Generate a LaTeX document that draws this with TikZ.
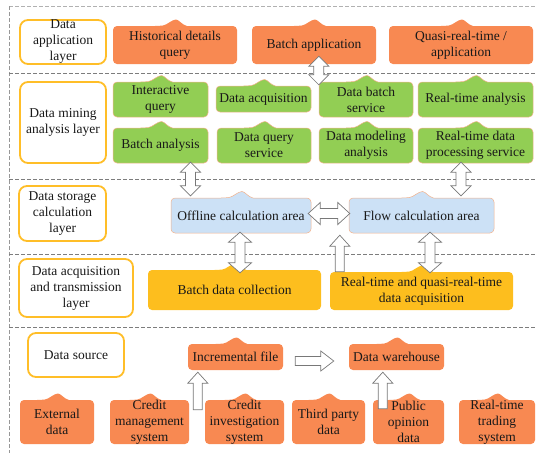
\documentclass[tikz,border=0pt]{standalone}
\usepackage{fontspec}
\setmainfont{Liberation Serif}
\usetikzlibrary{calc}

\definecolor{apporange}{RGB}{248,137,82}
\definecolor{minegreen}{RGB}{146,206,84}
\definecolor{calcblue}{RGB}{204,225,246}
\definecolor{acqyellow}{RGB}{253,190,30}
\definecolor{labelgold}{RGB}{255,190,40}
\definecolor{edgepeach}{RGB}{243,178,140}
\definecolor{sepgray}{RGB}{125,125,125}
\definecolor{arrowgray}{RGB}{120,120,120}

\tikzset{
  x=1pt, y=-1pt,
  boxtext/.style={inner sep=0pt, align=center, text=black!90,
    font=\fontsize{13.5}{16}\selectfont},
  layerbox/.style={draw=labelgold, line width=1.8pt, rounded corners=8pt, fill=white},
  orangefill/.style={fill=apporange},
  greenfill/.style={fill=minegreen, draw=edgepeach, line width=0.5pt},
  bluefill/.style={fill=calcblue, draw=edgepeach, line width=0.5pt},
  yellowfill/.style={fill=acqyellow},
  blockarrow/.style={draw=arrowgray, fill=white, line width=0.7pt, line join=miter},
  separator/.style={draw=sepgray, line width=1pt, dash pattern=on 4pt off 2pt},
}

% box with a small rounded mound in the middle of its top edge
% #1 name, #2 style, #3 x1, #4 y1, #5 x2, #6 y2, #7 text
\newcommand\bumpbox[7]{%
  \pgfmathsetmacro\bbcx{(#3+#5)/2}%
  \pgfmathsetmacro\bbcy{(#4+#6)/2}%
  \pgfmathsetmacro\bbw{#5-#3}%
  \pgfmathsetmacro\bbh{#6-#4}%
  \path[#2, rounded corners=4pt] (\bbcx+12,#4) -- (#5,#4) -- (#5,#6) -- (#3,#6)
    -- (#3,#4) -- (\bbcx-16,#4) [sharp corners]
    .. controls (\bbcx-8,#4-1) and (\bbcx-3,#4-6.5) .. (\bbcx+1,#4-6.5)
    .. controls (\bbcx+4,#4-6.5) and (\bbcx+7,#4-1) .. (\bbcx+12,#4) -- cycle;
  \node[boxtext, minimum width=\bbw pt, minimum height=\bbh pt] (#1) at (\bbcx,\bbcy) {#7};
}

% layer caption box: #1 name, #2 x1, #3 y1, #4 x2, #5 y2, #6 text
\newcommand\layerlabel[6]{%
  \pgfmathsetmacro\bbcx{(#2+#4)/2}%
  \pgfmathsetmacro\bbcy{(#3+#5)/2}%
  \pgfmathsetmacro\bbw{#4-#2}%
  \pgfmathsetmacro\bbh{#5-#3}%
  \node[layerbox, boxtext, minimum width=\bbw pt, minimum height=\bbh pt] (#1) at (\bbcx,\bbcy) {#6};
}

% vertical double block arrow: x and upper tip from #2, lower tip from #3; #1 head half width
\newcommand\dblv[3][10pt]{%
  \draw[blockarrow] let \p1=#2, \p2=#3 in
    (\x1,\y1) -- (\x1+#1,\y1-10pt) -- (\x1+5pt,\y1-10pt) -- (\x1+5pt,\y2+10pt)
    -- (\x1+#1,\y2+10pt) -- (\x1,\y2) -- (\x1-#1,\y2+10pt) -- (\x1-5pt,\y2+10pt)
    -- (\x1-5pt,\y1-10pt) -- (\x1-#1,\y1-10pt) -- cycle;
}

% horizontal double block arrow: y and left tip from #1, right tip from #2
\newcommand\dblh[2]{%
  \draw[blockarrow] let \p1=#1, \p2=#2 in
    (\x1,\y1) -- (\x1+12pt,\y1+11pt) -- (\x1+12pt,\y1+5pt) -- (\x2-12pt,\y1+5pt)
    -- (\x2-12pt,\y1+11pt) -- (\x2,\y1) -- (\x2-12pt,\y1-11pt) -- (\x2-12pt,\y1-5pt)
    -- (\x1+12pt,\y1-5pt) -- (\x1+12pt,\y1-11pt) -- cycle;
}

% upward block arrow: tail (x and y) from #1, tip height from #2
\newcommand\upv[2]{%
  \draw[blockarrow] let \p1=#1, \p2=#2 in
    (\x1-4.5pt,\y1) -- (\x1-4.5pt,\y2-11pt) -- (\x1-10pt,\y2-11pt) -- (\x1,\y2)
    -- (\x1+10pt,\y2-11pt) -- (\x1+4.5pt,\y2-11pt) -- (\x1+4.5pt,\y1) -- cycle;
}

% rightward block arrow: tail (x and y) from #1, tip x from #2
\newcommand\rightv[2]{%
  \draw[blockarrow] let \p1=#1, \p2=#2 in
    (\x1,\y1+4.5pt) -- (\x2-13pt,\y1+4.5pt) -- (\x2-13pt,\y1+10pt) -- (\x2,\y1)
    -- (\x2-13pt,\y1-10pt) -- (\x2-13pt,\y1-4.5pt) -- (\x1,\y1-4.5pt) -- cycle;
}

\begin{document}
\begin{tikzpicture}
\useasboundingbox (0,0) rectangle (536,453);

% layer frame
\draw[separator, draw=sepgray!60] (9,6) -- (536,6);
\draw[separator, draw=sepgray!80] (9,6) -- (9,453);
\foreach \yy in {73,179,254,327} \draw[separator] (9,\yy) -- (536,\yy);

% layer captions
\layerlabel{lapp}{20}{20}{106}{64}{Data\\application\\layer}
\layerlabel{lmine}{20}{82}{106}{163}{Data mining\\analysis layer}
\layerlabel{lstore}{19}{186}{106}{241}{Data storage\\calculation\\layer}
\layerlabel{lacq}{19}{259}{133}{317}{Data acquisition\\and transmission\\layer}
\layerlabel{lsrc}{28}{333}{124}{377}{Data source}

% application layer
\bumpbox{histq}{orangefill}{113}{26}{237}{64}{Historical details\\query}
\bumpbox{batchapp}{orangefill}{252}{26}{376}{64}{Batch application}
\bumpbox{quasiapp}{orangefill}{389}{26}{533}{64}{Quasi-real-time /\\application}

% mining analysis layer
\bumpbox{interq}{greenfill}{113}{82}{208}{117}{Interactive\\query}
\bumpbox{dataacq}{greenfill}{216}{86}{311}{112}{Data acquisition}
\bumpbox{databatch}{greenfill}{319}{82}{413}{117}{Data batch\\service}
\bumpbox{rtanalysis}{greenfill}{418}{82}{533}{117}{Real-time analysis}
\bumpbox{batchan}{greenfill}{113}{128}{208}{163}{Batch analysis}
\bumpbox{dataquery}{greenfill}{217}{128}{311}{163}{Data query\\service}
\bumpbox{datamodel}{greenfill}{319}{128}{413}{163}{Data modeling\\analysis}
\bumpbox{rtproc}{greenfill}{418}{128}{533}{163}{Real-time data\\processing service}

% storage calculation layer
\bumpbox{offline}{bluefill}{171}{198}{311}{233}{Offline calculation area}
\bumpbox{flow}{bluefill}{349}{198}{494}{233}{Flow calculation area}

% acquisition layer
\bumpbox{batchcoll}{yellowfill}{148}{270}{321}{310}{Batch data collection}
\bumpbox{rtacq}{yellowfill}{330}{272}{513}{310}{Real-time and quasi-real-time\\data acquisition}

% data sources
\bumpbox{incfile}{orangefill}{188}{344}{283}{370}{Incremental file}
\bumpbox{warehouse}{orangefill}{349}{344}{444}{370}{Data warehouse}
\bumpbox{extdata}{orangefill}{20}{400}{94}{444}{External\\data}
\bumpbox{creditmgmt}{orangefill}{110}{400}{189}{444}{Credit\\management\\system}
\bumpbox{creditinv}{orangefill}{205}{400}{284}{444}{Credit\\investigation\\system}
\bumpbox{thirdparty}{orangefill}{292}{400}{365}{444}{Third party\\data}
\bumpbox{pubop}{orangefill}{373}{400}{444}{444}{Public\\opinion\\data}
\bumpbox{rttrade}{orangefill}{459}{400}{535}{444}{Real-time\\trading\\system}

% data flows
\dblv{($(batchapp.south -| databatch.west)+(0,-8)$)}{($(databatch.north)+(0,3)$)}
\dblv{($(batchan.south)+(30,-1)$)}{($(offline.north)+(0,-2)$)}
\dblv{($(rtproc.south)+(-14.5,-1)$)}{($(flow.north)+(0,-2)$)}
\dblh{($(offline.east)+(-3,-2)$)}{($(flow.west)+(1,0)$)}
\dblv[11.5pt]{($(offline.south)+(-1,-1)$)}{($(batchcoll.north)+(0,3)$)}
\dblv[11.5pt]{($(flow.south)+(8.5,-1)$)}{($(rtacq.north)+(0,1)$)}
\upv{($(rtacq.north west)+(10,0)$)}{($(flow.south west)+(0,2)$)}
\rightv{($(incfile.east)+(12,4)$)}{($(warehouse.west)+(-15,0)$)}
\upv{($(incfile.south west |- creditinv.north)+(10,10)$)}{($(incfile.south)+(0,2)$)}
\upv{($(pubop.north west)+(10,9)$)}{($(warehouse.south)+(0,2)$)}
\end{tikzpicture}
\end{document}
